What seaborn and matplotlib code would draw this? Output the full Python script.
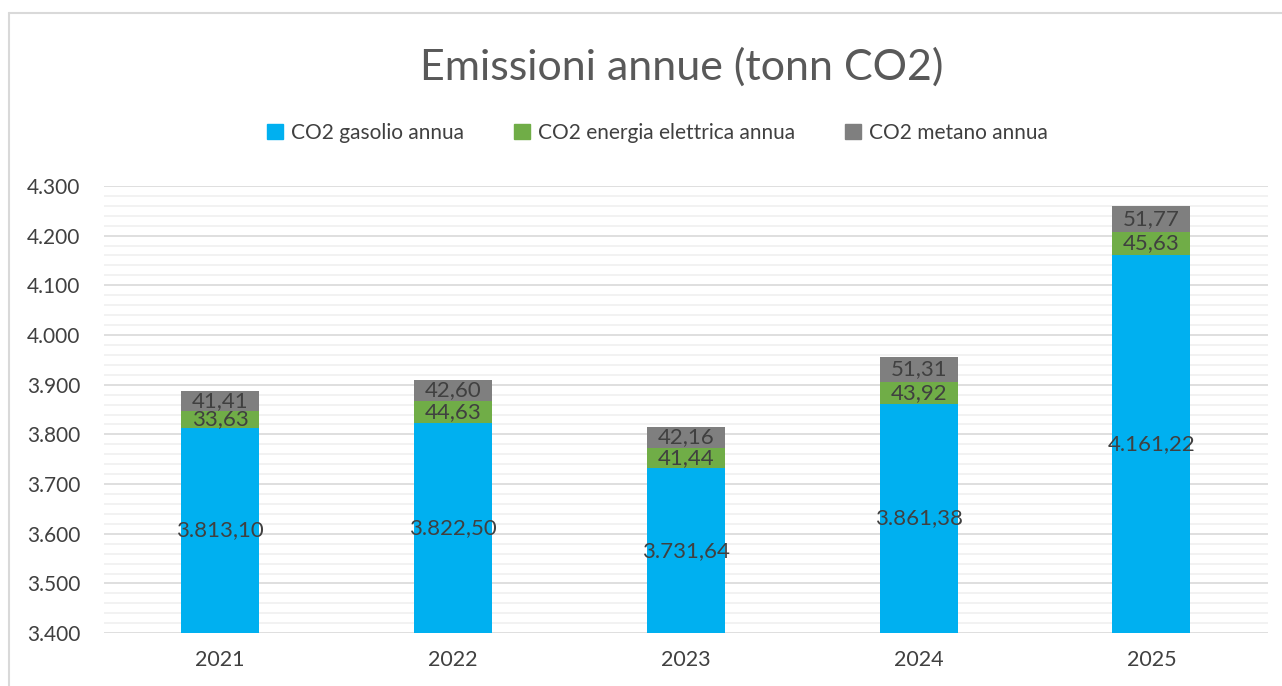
import pandas as pd
import seaborn as sns
import matplotlib.pyplot as plt
from matplotlib.lines import Line2D
from matplotlib.ticker import MultipleLocator, FuncFormatter

# dati (tonn CO2)
anni = ["2021", "2022", "2023", "2024", "2025"]
gasolio = [3813.10, 3822.50, 3731.64, 3861.38, 4161.22]
elettrica = [33.63, 44.63, 41.44, 43.92, 45.63]
metano = [41.41, 42.60, 42.16, 51.31, 51.77]

serie = ["CO2 gasolio annua", "CO2 energia elettrica annua", "CO2 metano annua"]
colori = ["#00B0F0", "#70AD47", "#7F7F7F"]
testo = "#404040"


def it_num(v, dec=2):
    s = f"{v:,.{dec}f}"
    return s.replace(",", "X").replace(".", ",").replace("X", ".")


def main():
    sns.set_theme(style="white")
    plt.rcParams["font.family"] = ["Lato", "DejaVu Sans"]

    df = pd.DataFrame({"anno": anni, "gasolio": gasolio,
                       "elettrica": elettrica, "metano": metano})
    df["g_e"] = df["gasolio"] + df["elettrica"]
    df["tot"] = df["g_e"] + df["metano"]

    fig = plt.figure(figsize=(12.82, 6.86), dpi=100)
    ax = fig.add_axes([0.081, 0.077, 0.908, 0.652])

    # barre sovrapposte (totale cumulato) per l'effetto impilato
    for col, c in zip(["tot", "g_e", "gasolio"], colori[::-1]):
        sns.barplot(data=df, x="anno", y=col, color=c, width=0.335,
                    saturation=1, linewidth=0, ax=ax, zorder=3)

    ax.set_ylim(3400, 4300)
    ax.set_xlim(-0.5, 4.5)
    ax.yaxis.set_major_locator(MultipleLocator(100))
    ax.yaxis.set_minor_locator(MultipleLocator(20))
    ax.yaxis.set_major_formatter(FuncFormatter(lambda v, p: it_num(v, 0)))
    ax.grid(axis="y", which="major", color="#D9D9D9", lw=1.2, zorder=0)
    ax.grid(axis="y", which="minor", color="#F0F0F0", lw=1.2, zorder=0)
    ax.set_axisbelow(True)
    for s in ax.spines.values():
        s.set_visible(False)
    ax.tick_params(axis="y", which="both", length=0, labelsize=15,
                   labelcolor=testo, pad=17)
    ax.tick_params(axis="x", length=0, labelsize=15.5, labelcolor=testo, pad=12)
    ax.set_xlabel("")
    ax.set_ylabel("")

    # etichette dati
    for i in range(len(anni)):
        ax.text(i, (3400 + gasolio[i]) / 2, it_num(gasolio[i]), ha="center",
                va="center", fontsize=16, color=testo, zorder=5)
        ax.text(i, gasolio[i] + elettrica[i] / 2, it_num(elettrica[i]),
                ha="center", va="center", fontsize=16, color=testo, zorder=5)
        ax.text(i, df["g_e"][i] + metano[i] / 2, it_num(metano[i]),
                ha="center", va="center", fontsize=16, color=testo, zorder=5)

    fig.text(0.532, 0.903, "Emissioni annue (tonn CO2)", ha="center",
             va="center", fontsize=31, color="#595959")

    handles = [plt.Rectangle((0, 0), 1, 1, color=c) for c in colori]
    fig.legend(handles, serie, loc="center", bbox_to_anchor=(0.513, 0.806),
               ncol=3, frameon=False, fontsize=15, handlelength=0.75,
               handleheight=0.75, columnspacing=2.4, handletextpad=0.4,
               labelcolor=testo)

    # cornice del grafico
    fig.add_artist(Line2D([9 / 1282, 9 / 1282], [0, 1 - 13 / 686],
                          transform=fig.transFigure, color="#D9D9D9", lw=1.5))
    fig.add_artist(Line2D([9 / 1282, 1], [1 - 13 / 686, 1 - 13 / 686],
                          transform=fig.transFigure, color="#D9D9D9", lw=1.5))

    fig.savefig("out.png", dpi=100, facecolor="white")


if __name__ == "__main__":
    main()
